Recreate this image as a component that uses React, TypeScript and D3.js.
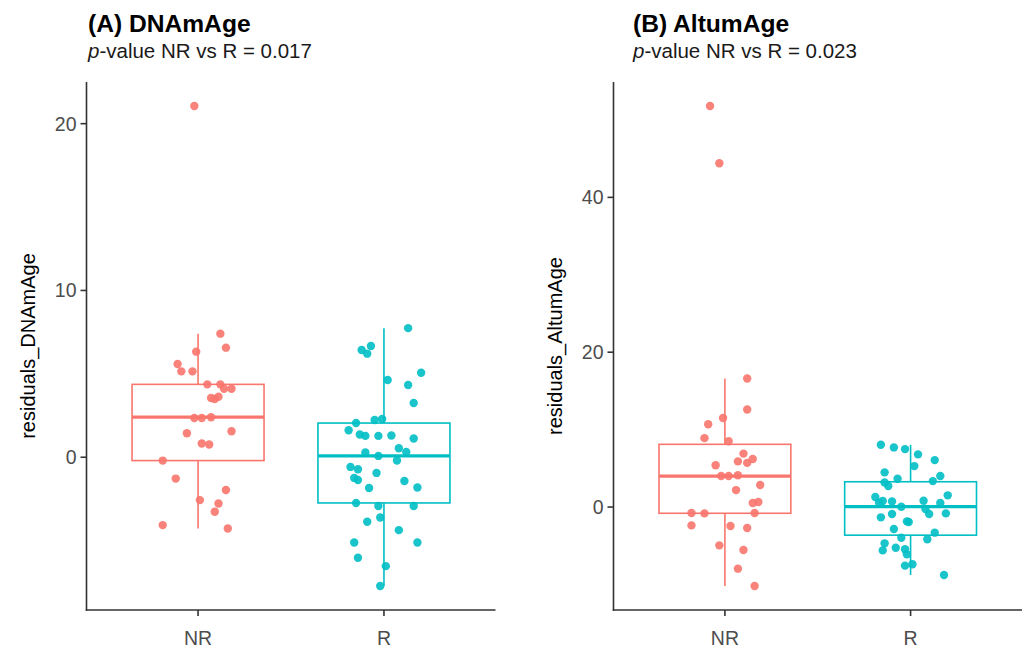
import React from "react";
import * as d3 from "d3";

const categories = ["NR", "R"];
const colors = ["#F8766D", "#00BFC4"];

// Panel A: residuals_DNAmAge
const dnamNR = [21.06, 7.41, 6.57, 6.33, 5.59, 5.15, 5.15, 4.37, 4.37, 4.11, 4.11, 3.55, 3.49, 3.63, 2.35, 2.35, 2.40, 1.44, 1.56, 0.82, 0.76, -0.20, -1.28, -1.96, -2.57, -2.77, -3.27, -4.07, -4.27];
const dnamNRJitter = [-0.02, 0.12, 0.15, -0.01, -0.11, -0.09, -0.03, 0.05, 0.12, 0.14, 0.18, 0.07, 0.09, 0.11, -0.02, 0.02, 0.07, -0.06, 0.18, 0.02, 0.06, -0.19, -0.12, 0.15, 0.01, 0.11, 0.09, -0.19, 0.16];
const dnamR = [7.74, 6.43, 6.67, 6.21, 5.07, 4.63, 4.33, 3.25, 2.05, 2.23, 2.29, 1.62, 1.36, 1.28, 1.28, 1.30, 1.12, 0.54, 0.32, 0.28, 0.08, -0.20, -0.58, -0.72, -0.94, -1.24, -1.36, -1.42, -1.84, -1.81, -2.74, -2.92, -2.92, -3.87, -3.61, -4.37, -5.11, -5.11, -6.03, -6.53, -7.72];
const dnamRJitter = [0.13, -0.12, -0.07, -0.09, 0.20, 0.02, 0.13, 0.16, -0.15, -0.05, -0.01, -0.19, -0.13, -0.10, -0.03, 0.04, 0.16, 0.08, 0.12, -0.10, -0.03, 0.07, -0.18, -0.14, -0.04, -0.16, -0.14, 0.11, -0.08, 0.18, -0.15, -0.03, 0.16, -0.09, -0.02, 0.08, -0.16, 0.18, -0.14, 0.01, -0.02];

// Panel B: residuals_AltumAge
const altumNR = [51.8, 44.4, 16.6, 12.6, 11.5, 10.7, 8.9, 8.5, 6.9, 5.9, 5.7, 6.2, 5.4, 4.0, 4.0, 4.1, 2.84, 2.19, 0.52, 0.65, -0.77, -0.82, -0.77, -2.37, -2.45, -2.71, -4.95, -5.55, -7.96, -10.2];
const altumNRJitter = [-0.08, -0.03, 0.12, 0.12, -0.01, -0.09, -0.11, 0.02, 0.10, 0.07, 0.12, 0.15, -0.05, -0.02, 0.02, 0.07, 0.19, 0.06, 0.15, 0.18, -0.18, -0.11, 0.16, -0.18, 0.03, 0.12, -0.03, 0.10, 0.07, 0.16];
const altumR = [8.04, 7.70, 7.48, 6.80, 6.06, 5.29, 4.48, 3.66, 4.00, 3.35, 3.18, 2.71, 1.51, 1.29, 0.77, 0.56, 0.73, 0.82, 0.52, 0.04, -0.26, -0.90, -0.82, -0.90, -1.33, -1.85, -1.94, -2.84, -3.31, -3.96, -4.17, -4.69, -5.60, -5.25, -5.46, -6.11, -7.57, -7.40, -8.77];
const altumRJitter = [-0.16, -0.09, -0.03, 0.04, 0.13, 0.02, -0.14, -0.07, 0.16, 0.12, -0.14, -0.12, 0.20, -0.19, -0.15, -0.17, -0.10, 0.07, 0.16, -0.05, 0.08, 0.10, 0.19, -0.10, -0.16, -0.02, -0.01, -0.09, 0.13, -0.05, 0.09, -0.14, -0.15, -0.08, -0.03, -0.02, -0.03, 0.01, 0.18];

const dnamTicks = [0, 10, 20];
const altumTicks = [0, 20, 40];

const FONT = "'Liberation Sans', Arial, Helvetica, sans-serif";

type Group = { values: number[]; jitter: number[] };

function boxStats(values: number[]) {
  const s = values.slice().sort(d3.ascending);
  const q1 = d3.quantile(s, 0.25) as number;
  const med = d3.quantile(s, 0.5) as number;
  const q3 = d3.quantile(s, 0.75) as number;
  const iqr = q3 - q1;
  const lo = d3.min(s.filter((v) => v >= q1 - 1.5 * iqr)) as number;
  const hi = d3.max(s.filter((v) => v <= q3 + 1.5 * iqr)) as number;
  return { q1, med, q3, lo, hi };
}

function Panel(props: {
  left: number;
  right: number;
  top: number;
  bottom: number;
  groups: Group[];
  ticks: number[];
  title: string;
  pval: string;
  titleX: number;
  yLabel: string;
}) {
  const { left, right, top, bottom, groups, ticks, title, pval, titleX, yLabel } = props;
  const x = d3.scalePoint<string>().domain(categories).range([left, right]).padding(0.6);
  const step = x.step();
  const all = groups.flatMap((g) => g.values);
  const [mn, mx] = d3.extent(all) as [number, number];
  const pad = (mx - mn) * 0.05;
  const y = d3.scaleLinear().domain([mn - pad, mx + pad]).range([bottom, top]);
  const boxW = step * 0.71;
  const axisColor = "#333333";
  const tickText = "#4D4D4D";

  return (
    <g>
      <text x={titleX} y={32} fontFamily={FONT} fontWeight="bold" fontSize={24.6} fill="#000">
        {title}
      </text>
      <text x={titleX} y={58} fontFamily={FONT} fontSize={20.5} fill="#1a1a1a">
        <tspan fontStyle="italic">p</tspan>
        <tspan>{"-value NR vs R = " + pval}</tspan>
      </text>

      {groups.map((g, i) => {
        const cat = categories[i];
        const cx = x(cat) as number;
        const st = boxStats(g.values);
        const c = colors[i];
        return (
          <g key={cat}>
            <line x1={cx} x2={cx} y1={y(st.q3)} y2={y(st.hi)} stroke={c} strokeWidth={1.6} />
            <line x1={cx} x2={cx} y1={y(st.q1)} y2={y(st.lo)} stroke={c} strokeWidth={1.6} />
            <rect
              x={cx - boxW / 2}
              y={y(st.q3)}
              width={boxW}
              height={y(st.q1) - y(st.q3)}
              fill="white"
              stroke={c}
              strokeWidth={1.6}
            />
            <line x1={cx - boxW / 2} x2={cx + boxW / 2} y1={y(st.med)} y2={y(st.med)} stroke={c} strokeWidth={3.2} />
            {g.values.map((v, j) => (
              <circle key={j} cx={cx + g.jitter[j] * step} cy={y(v)} r={4.2} fill={c} opacity={0.9} />
            ))}
          </g>
        );
      })}

      {/* y axis */}
      <line x1={left} x2={left} y1={top} y2={bottom + 0.8} stroke={axisColor} strokeWidth={1.6} />
      {ticks.map((t) => (
        <g key={t}>
          <line x1={left - 6} x2={left} y1={y(t)} y2={y(t)} stroke={axisColor} strokeWidth={1.6} />
          <text
            x={left - 10}
            y={y(t)}
            dy="0.36em"
            textAnchor="end"
            fontFamily={FONT}
            fontSize={19.5}
            fill={tickText}
          >
            {t}
          </text>
        </g>
      ))}
      {/* x axis */}
      <line x1={left - 0.8} x2={right} y1={bottom} y2={bottom} stroke={axisColor} strokeWidth={1.6} />
      {categories.map((c) => (
        <g key={c}>
          <line x1={x(c)} x2={x(c)} y1={bottom} y2={bottom + 6} stroke={axisColor} strokeWidth={1.6} />
          <text x={x(c)} y={645} textAnchor="middle" fontFamily={FONT} fontSize={19.5} fill={tickText}>
            {c}
          </text>
        </g>
      ))}
      <text
        transform={`translate(${left - 52},${(top + bottom) / 2}) rotate(-90)`}
        textAnchor="middle"
        fontFamily={FONT}
        fontSize={20}
        fill="#000"
      >
        {yLabel}
      </text>
    </g>
  );
}

export default function App() {
  return (
    <svg width={1027} height={648} style={{ display: "block", position: "absolute", left: 0, top: 0 }}>
      <rect x={0} y={0} width={1027} height={648} fill="white" />
      <Panel
        left={86.5}
        right={495.5}
        top={82}
        bottom={610}
        groups={[
          { values: dnamNR, jitter: dnamNRJitter },
          { values: dnamR, jitter: dnamRJitter },
        ]}
        ticks={dnamTicks}
        title="(A) DNAmAge"
        pval="0.017"
        titleX={88}
        yLabel="residuals_DNAmAge"
      />
      <Panel
        left={613.5}
        right={1022}
        top={82}
        bottom={610}
        groups={[
          { values: altumNR, jitter: altumNRJitter },
          { values: altumR, jitter: altumRJitter },
        ]}
        ticks={altumTicks}
        title="(B) AltumAge"
        pval="0.023"
        titleX={633}
        yLabel="residuals_AltumAge"
      />
    </svg>
  );
}
